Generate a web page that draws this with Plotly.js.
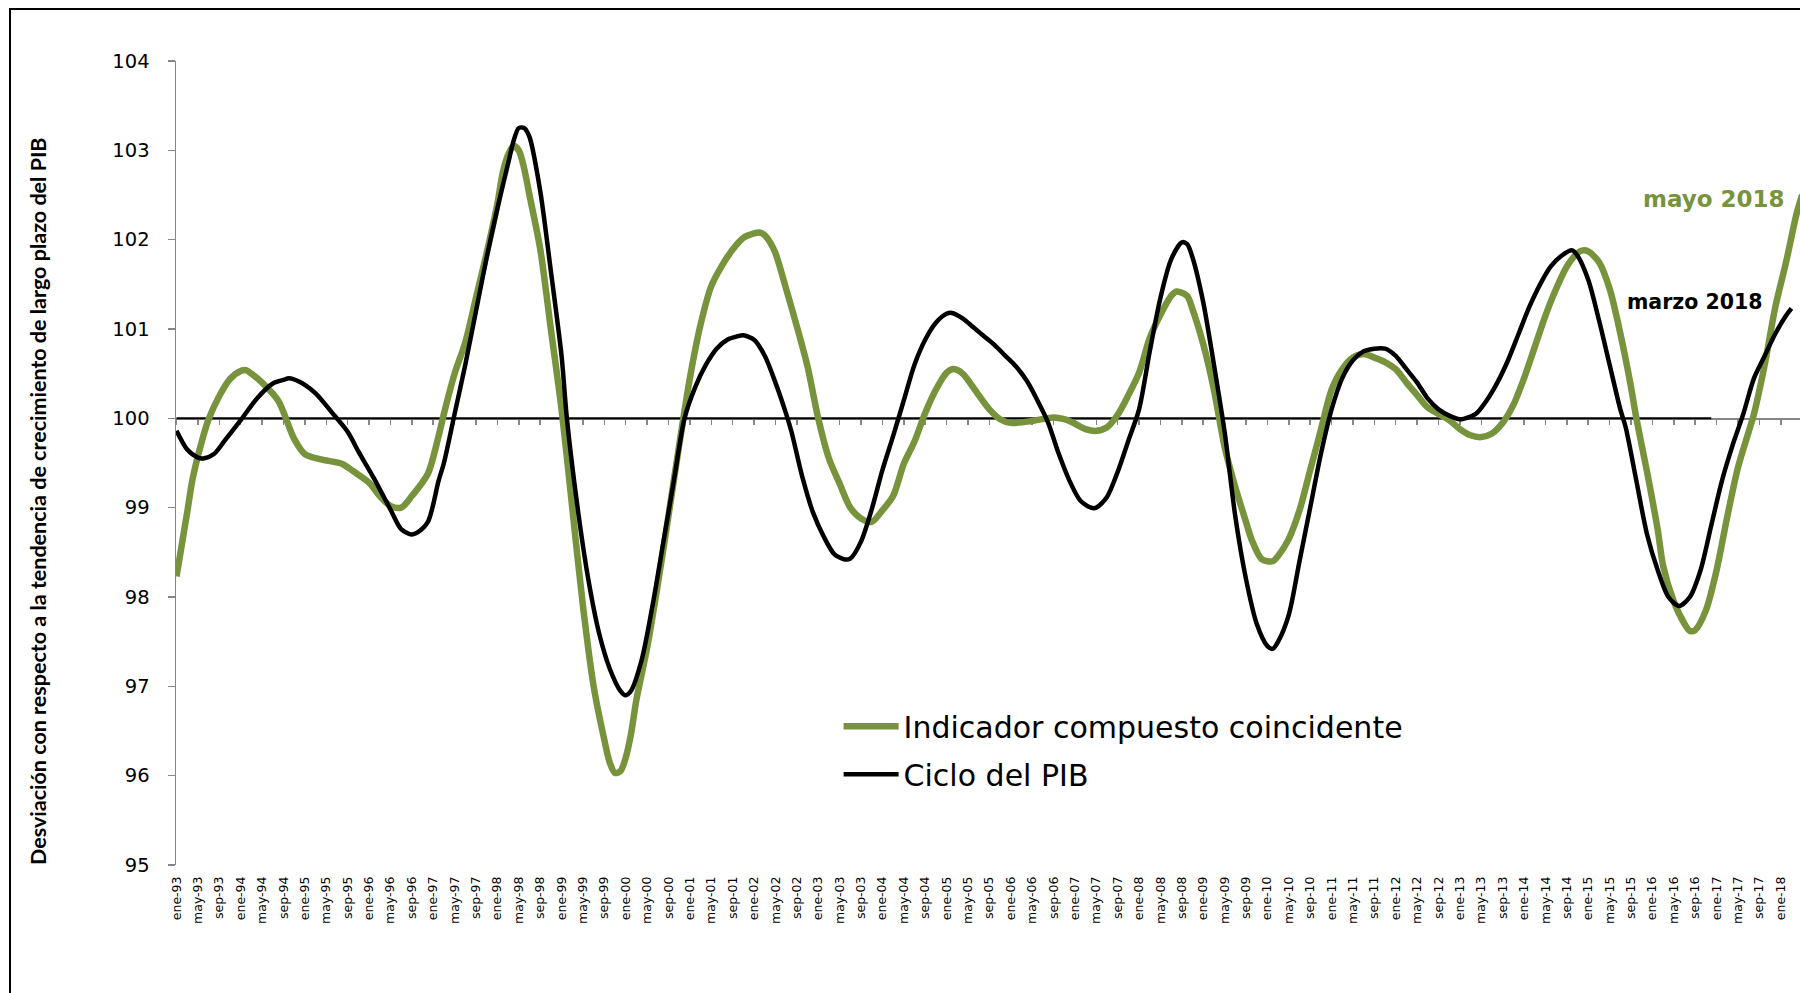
<!DOCTYPE html>
<html><head><meta charset="utf-8">
<script src="https://cdn.plot.ly/plotly-3.0.1.min.js"></script>
<style>
html,body{margin:0;padding:0;background:#fff;}
#chart{position:absolute;left:0;top:0;width:1800px;height:993px;}
#frame{position:absolute;left:9px;top:8px;width:1800px;height:1000px;border-left:2px solid #000;border-top:2px solid #000;pointer-events:none;}
</style>
</head><body>
<div id="chart"></div><div id="frame"></div>
<script>
// ---- data (monthly, ene-1993 .. may-2018) ----
const greenName = "Indicador compuesto coincidente";
const blackName = "Ciclo del PIB";

const greenDates = ["1993-01","1993-03","1993-04","1993-06","1993-07","1993-09","1993-11","1994-01","1994-02","1994-03","1994-05","1994-08","1994-11","1995-01","1995-04","1995-08","1995-10","1996-01","1996-03","1996-05","1996-07","1996-09","1996-12","1997-02","1997-03","1997-05","1997-07","1997-09","1997-11","1998-01","1998-02","1998-03","1998-04","1998-05","1998-06","1998-07","1998-09","1998-11","1999-01","1999-03","1999-05","1999-07","1999-09","1999-10","1999-11","1999-12","2000-01","2000-02","2000-03","2000-05","2000-07","2000-09","2000-11","2001-01","2001-03","2001-05","2001-07","2001-09","2001-11","2002-01","2002-02","2002-03","2002-04","2002-05","2002-07","2002-09","2002-11","2003-01","2003-03","2003-05","2003-07","2003-09","2003-11","2004-01","2004-03","2004-05","2004-07","2004-09","2004-11","2005-01","2005-02","2005-03","2005-04","2005-05","2005-07","2005-09","2005-11","2006-01","2006-05","2006-09","2006-11","2007-01","2007-03","2007-05","2007-07","2007-09","2007-11","2008-01","2008-03","2008-05","2008-07","2008-08","2008-10","2008-11","2009-01","2009-03","2009-05","2009-07","2009-09","2009-10","2009-12","2010-02","2010-03","2010-05","2010-07","2010-09","2010-11","2011-01","2011-03","2011-05","2011-07","2011-09","2011-11","2012-01","2012-03","2012-05","2012-07","2012-09","2012-11","2013-01","2013-03","2013-05","2013-07","2013-09","2013-11","2014-01","2014-03","2014-05","2014-07","2014-09","2014-11","2014-12","2015-01","2015-03","2015-05","2015-07","2015-09","2015-10","2015-12","2016-02","2016-03","2016-05","2016-07","2016-08","2016-09","2016-11","2017-01","2017-03","2017-05","2017-07","2017-08","2017-10","2017-12","2018-02","2018-04","2018-05"];
const greenVals = [98.23,98.95,99.32,99.8,99.99,100.25,100.44,100.53,100.54,100.5,100.4,100.2,99.77,99.6,99.54,99.49,99.41,99.28,99.13,99.02,99.0,99.13,99.38,99.8,100.05,100.5,100.85,101.35,101.85,102.4,102.75,102.95,103.05,103.0,102.8,102.5,101.9,101.0,100.1,99.0,97.9,97.0,96.4,96.15,96.03,96.05,96.2,96.47,96.85,97.43,98.14,98.91,99.7,100.45,101.05,101.48,101.71,101.89,102.02,102.07,102.08,102.05,101.97,101.85,101.45,101.03,100.58,100.0,99.55,99.27,99.0,98.88,98.84,98.97,99.13,99.49,99.74,100.06,100.32,100.51,100.55,100.54,100.5,100.43,100.26,100.1,99.99,99.95,99.97,100.01,99.99,99.94,99.88,99.86,99.9,100.04,100.26,100.51,100.9,101.16,101.37,101.42,101.37,101.22,100.83,100.32,99.68,99.23,98.84,98.65,98.42,98.4,98.46,98.65,98.97,99.42,99.87,100.32,100.55,100.68,100.72,100.68,100.63,100.55,100.4,100.26,100.12,100.05,99.98,99.88,99.81,99.79,99.83,99.95,100.15,100.45,100.8,101.15,101.45,101.7,101.85,101.88,101.87,101.75,101.45,100.95,100.35,100.0,99.4,98.75,98.35,97.95,97.7,97.62,97.63,97.85,98.3,98.9,99.45,99.85,100.05,100.6,101.25,101.75,102.3,102.5];

const blackDates = ["1993-01","1993-03","1993-05","1993-06","1993-08","1993-10","1994-01","1994-04","1994-07","1994-09","1994-10","1994-12","1995-03","1995-06","1995-09","1995-11","1996-02","1996-05","1996-07","1996-09","1996-10","1996-12","1997-02","1997-03","1997-05","1997-07","1997-09","1997-11","1998-01","1998-03","1998-04","1998-05","1998-06","1998-07","1998-09","1998-11","1999-01","1999-02","1999-04","1999-06","1999-08","1999-10","1999-12","2000-01","2000-02","2000-04","2000-06","2000-08","2000-10","2000-12","2001-02","2001-04","2001-06","2001-08","2001-10","2001-11","2002-01","2002-03","2002-05","2002-07","2002-08","2002-10","2002-12","2003-02","2003-04","2003-06","2003-07","2003-09","2003-11","2004-01","2004-03","2004-05","2004-07","2004-09","2004-11","2005-01","2005-02","2005-04","2005-06","2005-08","2005-10","2005-12","2006-02","2006-04","2006-06","2006-08","2006-10","2006-12","2007-02","2007-04","2007-05","2007-07","2007-09","2007-11","2008-01","2008-03","2008-05","2008-07","2008-09","2008-10","2008-11","2009-01","2009-03","2009-05","2009-07","2009-09","2009-11","2010-01","2010-02","2010-03","2010-05","2010-07","2010-09","2010-11","2011-01","2011-03","2011-05","2011-07","2011-09","2011-11","2012-01","2012-03","2012-05","2012-07","2012-09","2012-11","2013-01","2013-03","2013-04","2013-06","2013-08","2013-10","2013-12","2014-02","2014-04","2014-06","2014-08","2014-10","2014-11","2015-01","2015-03","2015-05","2015-07","2015-08","2015-10","2015-12","2016-02","2016-04","2016-06","2016-08","2016-10","2016-12","2017-02","2017-04","2017-06","2017-08","2017-10","2017-12","2018-02","2018-03"];
const blackVals = [99.86,99.65,99.56,99.55,99.6,99.75,99.98,100.22,100.39,100.43,100.45,100.41,100.28,100.07,99.85,99.63,99.32,98.98,98.76,98.7,98.72,98.84,99.3,99.5,100.05,100.6,101.2,101.8,102.35,102.85,103.1,103.25,103.25,103.15,102.55,101.65,100.7,100.0,99.0,98.2,97.6,97.2,96.95,96.9,96.95,97.3,97.9,98.6,99.3,100.0,100.35,100.6,100.78,100.88,100.92,100.93,100.88,100.7,100.4,100.05,99.85,99.35,98.95,98.68,98.48,98.42,98.43,98.62,98.98,99.42,99.8,100.2,100.6,100.88,101.07,101.17,101.18,101.12,101.02,100.92,100.82,100.7,100.58,100.42,100.2,99.95,99.6,99.3,99.08,99.0,99.0,99.12,99.4,99.75,100.1,100.75,101.35,101.78,101.97,101.95,101.8,101.3,100.6,99.85,98.9,98.2,97.7,97.45,97.42,97.5,97.8,98.4,99.0,99.6,100.1,100.45,100.65,100.75,100.78,100.78,100.7,100.55,100.4,100.22,100.1,100.03,99.99,100.02,100.05,100.2,100.4,100.65,100.95,101.25,101.5,101.7,101.82,101.88,101.82,101.55,101.1,100.6,100.1,99.9,99.3,98.7,98.3,98.0,97.9,98.0,98.3,98.8,99.3,99.7,100.05,100.45,100.7,100.95,101.15,101.23];

// horizontal reference line at 100 (ene-93 .. dic-16)
const refDates = ["1993-01","2016-12"];
const refVals = [100,100];

// axis labels
const tickMonths = ["ene","may","sep"];
const tickYears = ["93","94","95","96","97","98","99","00","01","02","03","04","05","06","07","08","09","10","11","12","13","14","15","16","17","18"];
const yTitle = "Desviación con respecto a la tendencia de crecimiento de largo plazo del PIB";
const lastGreenLabel = "mayo 2018";
const lastBlackLabel = "marzo 2018";

// ---- helpers ----
function monthIndex(s){ const p = s.split("-"); return (+p[0]-1993)*12 + (+p[1]-1); }
const tickVals = [], tickText = [];
tickYears.forEach((yy, i) => {
  tickMonths.forEach((mm, j) => {
    tickVals.push(i*12 + j*4);
    tickText.push(mm + "-" + yy);
  });
});

const GREEN = "#77933C";
const GRAY = "#868686";
const xRange = [-0.1, 303.6];

const traces = [
  { x: refDates.map(monthIndex), y: refVals, mode: "lines", line: {color: "#000", width: 2},
    showlegend: false, hoverinfo: "skip" },
  { x: greenDates.map(monthIndex), y: greenVals, mode: "lines", name: greenName,
    line: {color: GREEN, width: 6.5, shape: "spline", smoothing: 0.8}, legendgroup: "g" },
  { x: blackDates.map(monthIndex), y: blackVals, mode: "lines", name: blackName,
    line: {color: "#000", width: 4.5, shape: "spline", smoothing: 0.8}, legendgroup: "b" },
  { x: [], y: [], xaxis: "x2", showlegend: false, hoverinfo: "skip" }
];

const layout = {
  width: 1800, height: 993,
  margin: {l: 176, r: 0, t: 61, b: 128},
  paper_bgcolor: "rgba(0,0,0,0)", plot_bgcolor: "rgba(0,0,0,0)",
  font: {family: "DejaVu Sans", color: "#000"},
  showlegend: true,
  xaxis: {range: xRange, tickvals: tickVals, ticktext: tickText, tickangle: -90,
    ticks: "", showline: false, showgrid: false, zeroline: false,
    tickfont: {size: 12.5, family: "DejaVu Sans"}, ticklabelstandoff: 8},
  xaxis2: {overlaying: "x", anchor: "free", position: 5/9, range: xRange, tickvals: tickVals,
    ticks: "outside", ticklen: 5, tickwidth: 1.5, tickcolor: GRAY, showline: true, linecolor: GRAY,
    linewidth: 1.5, showticklabels: false, showgrid: false, zeroline: false, layer: "below traces"},
  yaxis: {range: [95, 104], tick0: 95, dtick: 1, ticks: "outside", ticklen: 7, tickwidth: 1.5,
    tickcolor: GRAY, showline: true, linecolor: GRAY, linewidth: 1.5, showgrid: false, zeroline: false,
    tickfont: {size: 19.5, family: "DejaVu Sans"}, ticklabelstandoff: 14},
  legend: {x: 0.408, y: 0.205, xanchor: "left", yanchor: "top", bgcolor: "rgba(0,0,0,0)",
    font: {size: 30, family: "DejaVu Sans"}, traceorder: "grouped", tracegroupgap: 6, itemwidth: 55},
  annotations: [
    {text: "<b>" + yTitle + "</b>", xref: "paper", yref: "paper", x: -0.085, y: 0.4527, textangle: -90,
      showarrow: false, xanchor: "center", yanchor: "middle",
      font: {family: "Lato", size: 21.5, weight: 700, color: "#000"}},
    {text: "<b>" + lastGreenLabel + "</b>", xref: "x", yref: "y", x: 301.2, y: 102.45, xanchor: "right", yanchor: "middle",
      showarrow: false, font: {family: "DejaVu Sans", size: 23, color: GREEN}},
    {text: "<b>" + lastBlackLabel + "</b>", xref: "x", yref: "y", x: 297.1, y: 101.3, xanchor: "right", yanchor: "middle",
      showarrow: false, font: {family: "DejaVu Sans", size: 20.5, color: "#000"}}
  ]
};

Plotly.newPlot("chart", traces, layout, {displayModeBar: false, staticPlot: true});
</script>
</body></html>
